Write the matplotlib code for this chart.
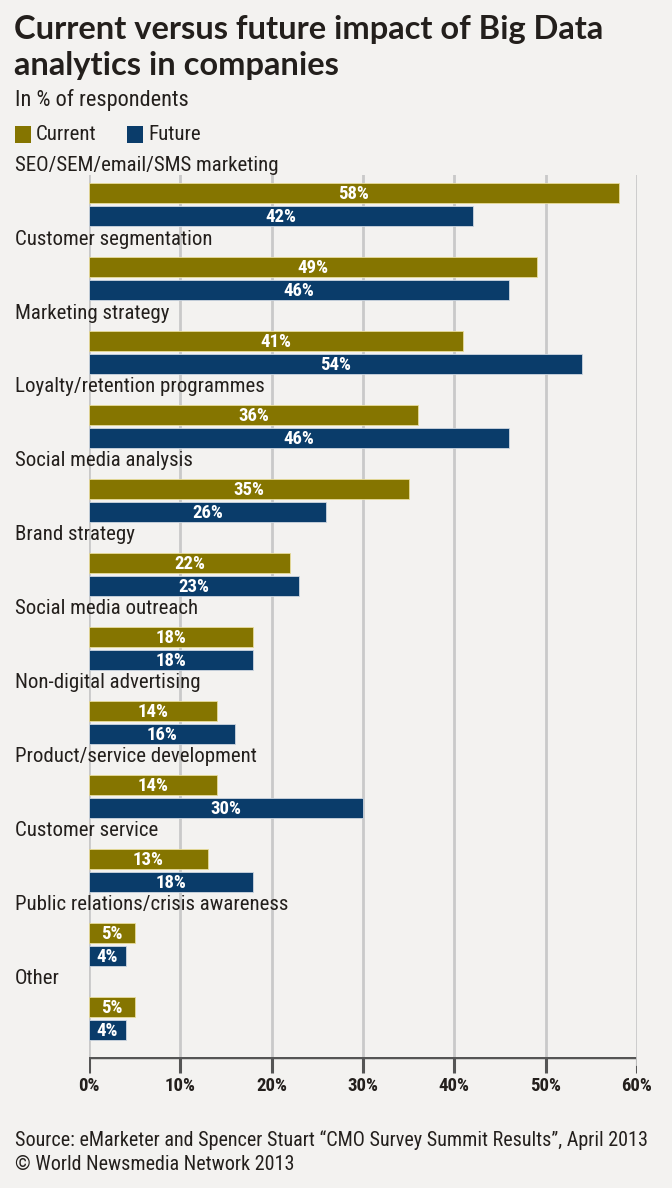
import matplotlib
matplotlib.use("Agg")
import matplotlib.pyplot as plt
from matplotlib import font_manager as fm
from matplotlib.patches import Rectangle

categories = ["SEO/SEM/email/SMS marketing", "Customer segmentation", "Marketing strategy",
              "Loyalty/retention programmes", "Social media analysis", "Brand strategy",
              "Social media outreach", "Non-digital advertising", "Product/service development",
              "Customer service", "Public relations/crisis awareness", "Other"]
current = [58, 49, 41, 36, 35, 22, 18, 14, 14, 13, 5, 5]
future = [42, 46, 54, 46, 26, 23, 18, 16, 30, 18, 4, 4]
ticks = [0, 10, 20, 30, 40, 50, 60]
tick_labels = ["0%", "10%", "20%", "30%", "40%", "50%", "60%"]

names = {f.name for f in fm.fontManager.ttflist}
def pick(*cands):
    for c in cands:
        if c in names:
            return c
    return "DejaVu Sans"
COND = pick("Liberation Sans Narrow", "Roboto Condensed", "DejaVu Sans Condensed", "Roboto")
TITLE = pick("Lato", "Open Sans", "DejaVu Sans")

BG = "#f3f2f0"
OLIVE = "#857500"
NAVY = "#0a3c6a"
TXT = "#231f1c"
W, H = 672, 1188
fig = plt.figure(figsize=(W / 100, H / 100), dpi=100, facecolor=BG)

x0, x1 = 89, 637
ytop, ybot = 175, 1057
ax = fig.add_axes([x0 / W, 1 - ybot / H, (x1 - x0) / W, (ybot - ytop) / H])
ax.set_facecolor(BG)
sp = 74.0
ax.set_xlim(0, 60)
ax.set_ylim((ybot - 183) / sp, (ytop - 183) / sp)
for s in ax.spines.values():
    s.set_visible(False)
ax.set_xticks([])
ax.set_yticks([])

for t in ticks:
    ax.axvline(t, color="#c9c9c9", lw=2, zorder=0)

bh = 20 / sp
for i, (c, f) in enumerate(zip(current, future)):
    yc = i + 10 / sp
    yf = i + 33 / sp
    ax.barh(yc, c, height=bh, color=OLIVE, edgecolor="#e8dc9a", linewidth=0.6, zorder=2)
    ax.barh(yf, f, height=bh, color=NAVY, edgecolor="#cdd6e0", linewidth=0.6, zorder=2)
    ax.text(c / 2, yc + 0.01, f"{c}%", color="white", fontsize=13.5, fontweight="bold",
            family=COND, ha="center", va="center", zorder=3)
    ax.text(f / 2, yf + 0.01, f"{f}%", color="white", fontsize=13.5, fontweight="bold",
            family=COND, ha="center", va="center", zorder=3)
    ax.text(-74 / (x1 - x0) * 60, i - 18 / sp, categories[i], fontsize=15, family=COND,
            color=TXT, ha="left", va="center", clip_on=False)

# bottom axis with ticks
axb = fig.add_axes([x0 / W, 1 - 1100 / H, (x1 - x0) / W, 43 / H])
axb.set_facecolor("none")
axb.set_xlim(0, 60)
axb.set_ylim(0, 43)
for s in axb.spines.values():
    s.set_visible(False)
axb.set_yticks([])
axb.set_xticks([])
axb.axhline(43, color="#555555", lw=2.5, xmin=0, xmax=1)
for t, lab in zip(ticks, tick_labels):
    axb.plot([t, t], [43, 27], color="#555555", lw=2.2, solid_capstyle="butt")
    axb.text(t, 14, lab, ha="center", va="center", fontsize=13.5, fontweight="bold",
             family=COND, color=TXT)
axb.plot([60, 60], [43, 36], color="#c9c9c9", lw=2)

# titles
fig.text(14 / W, 1 - 30 / H, "Current versus future impact of Big Data", fontsize=23.5,
         fontweight="bold", family=TITLE, color=TXT, ha="left", va="center")
fig.text(14 / W, 1 - 65 / H, "analytics in companies", fontsize=23.5,
         fontweight="bold", family=TITLE, color=TXT, ha="left", va="center")
fig.text(15 / W, 1 - 100 / H, "In % of respondents", fontsize=16, family=COND,
         color=TXT, ha="left", va="center")

# legend
fig.patches.append(Rectangle((15 / W, 1 - 143 / H), 16 / W, 17 / H, transform=fig.transFigure,
                             facecolor=OLIVE, edgecolor="none"))
fig.text(36 / W, 1 - 134 / H, "Current", fontsize=15, family=COND, color=TXT,
         ha="left", va="center")
fig.patches.append(Rectangle((127 / W, 1 - 143 / H), 16 / W, 17 / H, transform=fig.transFigure,
                             facecolor=NAVY, edgecolor="none"))
fig.text(148 / W, 1 - 134 / H, "Future", fontsize=15, family=COND, color=TXT,
         ha="left", va="center")

fig.text(15 / W, 1 - 1140 / H,
         "Source: eMarketer and Spencer Stuart \u201cCMO Survey Summit Results\u201d, April 2013",
         fontsize=14.5, family=COND, color=TXT, ha="left", va="center")
fig.text(15 / W, 1 - 1165 / H, "\u00a9 World Newsmedia Network 2013",
         fontsize=14.5, family=COND, color=TXT, ha="left", va="center")

fig.savefig("out.png", dpi=100, facecolor=BG)
